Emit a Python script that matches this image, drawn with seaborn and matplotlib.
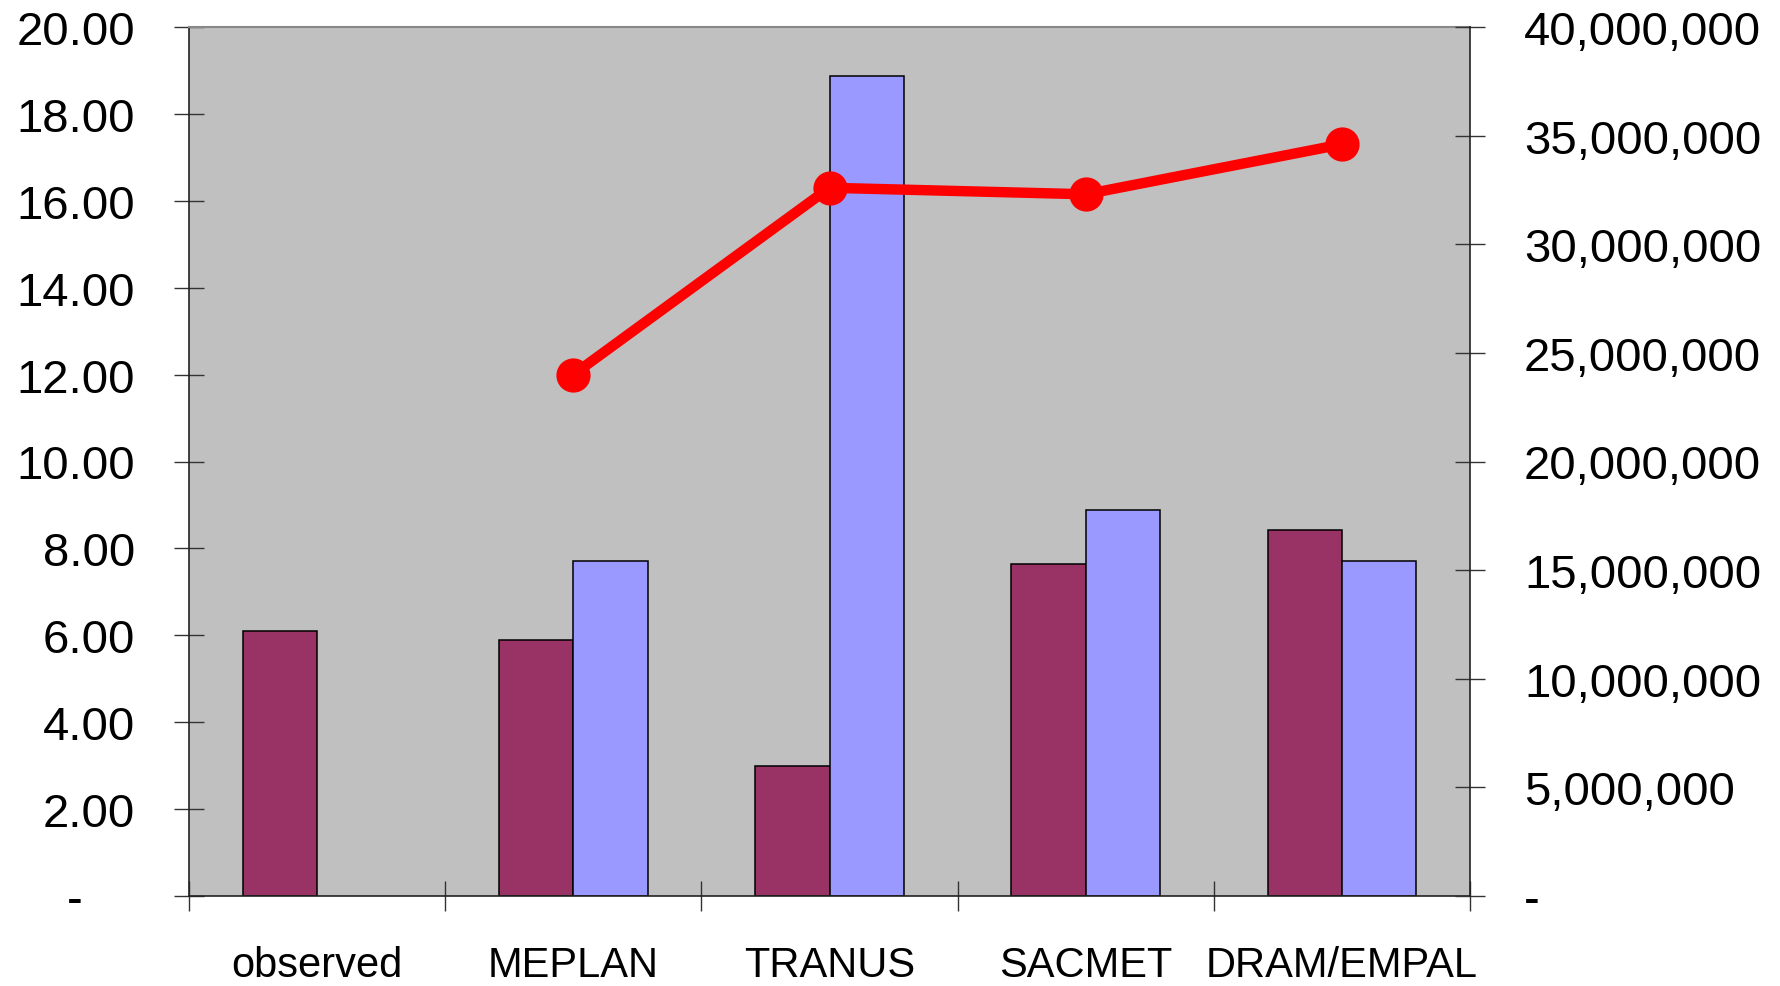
import matplotlib
matplotlib.use("Agg")
import matplotlib.pyplot as plt
import matplotlib.ticker as mticker
import numpy as np
import pandas as pd
import seaborn as sns

# ---- data ----
models = ["observed", "MEPLAN", "TRANUS", "SACMET", "DRAM/EMPAL"]
series_a = [6.11, 5.90, 3.00, 7.65, 8.43]          # purple bars (left axis)
series_b = [np.nan, 7.70, 18.88, 8.88, 7.70]       # blue bars (left axis)
line_vals = [np.nan, 24.0e6, 32.6e6, 32.3e6, 34.6e6]  # red line (right axis)
hue_names = ["A", "B"]

sns.set_style("white")
plt.rcParams["font.family"] = ["Liberation Sans", "DejaVu Sans"]
plt.rcParams["text.color"] = "black"
plt.rcParams["xtick.labelcolor"] = "black"
plt.rcParams["ytick.labelcolor"] = "black"

df_bars = pd.DataFrame({
    "model": models * 2,
    "value": series_a + series_b,
    "series": [hue_names[0]] * len(models) + [hue_names[1]] * len(models),
})
df_line = pd.DataFrame({"model": models, "value": line_vals})

fig = plt.figure(figsize=(17.81, 9.87), dpi=100)
ax = fig.add_axes([189 / 1781, 1 - 897 / 987, (1470 - 189) / 1781, (897 - 28) / 987])
ax.set_facecolor("#C0C0C0")

sns.barplot(data=df_bars, x="model", y="value", hue="series", order=models,
            hue_order=hue_names, palette=["#993366", "#9999FF"], width=0.58,
            edgecolor="black", linewidth=1.1, errorbar=None, ax=ax, legend=False,
            saturation=1)

ax2 = ax.twinx()
sns.pointplot(data=df_line, x="model", y="value", order=models, color="#FF0000",
              markers="o", markersize=19, linewidth=7.5, errorbar=None, ax=ax2)

# left axis
ax.set_ylim(0, 20)
ax.set_yticks(np.arange(0, 20.01, 2))
ax.yaxis.set_major_formatter(mticker.FuncFormatter(
    lambda v, p: "-    " if abs(v) < 1e-9 else f"{v:.2f}"))
ax.set_xlabel("")
ax.set_ylabel("")

# category labels at centers (no tick marks), boundary ticks as minor
ax.set_xlim(-0.5, len(models) - 0.5)
ax.set_xticks(range(len(models)))
ax.set_xticklabels(models)
ax.set_xticks(np.arange(-0.5, len(models), 1.0), minor=True)
ax.xaxis.set_minor_formatter(mticker.NullFormatter())
ax.tick_params(axis="x", which="major", length=0, pad=35, labelsize=30,
               labelcolor="black")
ax.tick_params(axis="x", which="minor", direction="inout", length=21.6, width=1.0,
               color="#333333", bottom=True)
ax.tick_params(axis="y", which="major", direction="inout", length=21.6, width=1.0,
               pad=28, labelsize=34, color="#333333", labelcolor="black")

for s in ["left", "bottom"]:
    ax.spines[s].set_color("#222222")
    ax.spines[s].set_linewidth(1.2)
ax.spines["top"].set_color("#888888")
ax.spines["top"].set_linewidth(1.5)
ax.spines["right"].set_visible(False)

# right axis
ax2.set_ylim(0, 40e6)
ax2.set_yticks(np.arange(0, 40e6 + 1, 5e6))
ax2.yaxis.set_major_formatter(mticker.FuncFormatter(
    lambda v, p: "-" if abs(v) < 1e-3 else f"{v:,.0f}"))
ax2.set_ylabel("")
ax2.set_xlabel("")
ax2.tick_params(axis="y", which="major", direction="inout", length=21.6, width=1.0,
                pad=28, labelsize=34, color="#333333", labelcolor="black")
ax2.tick_params(axis="x", which="both", bottom=False, top=False,
                labelbottom=False, labeltop=False)
for s in ["top", "left", "bottom"]:
    ax2.spines[s].set_visible(False)
ax2.spines["right"].set_color("#222222")
ax2.spines["right"].set_linewidth(1.2)

fig.savefig("out.png", dpi=100)
